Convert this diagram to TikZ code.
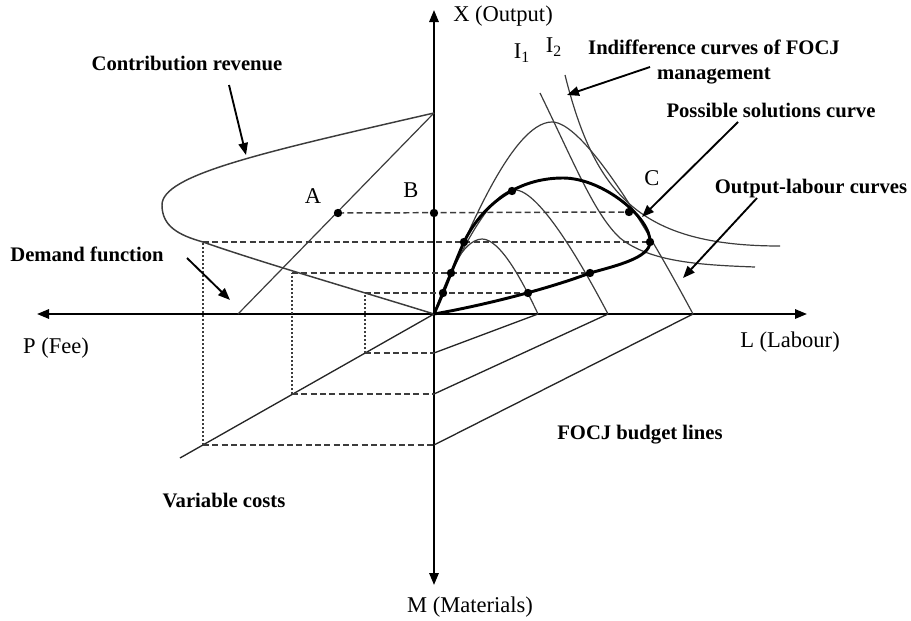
\documentclass[tikz,border=0pt]{standalone}
\usepackage{fontspec}
\setmainfont{Liberation Serif}
\usetikzlibrary{arrows.meta}
\definecolor{inkgrey}{RGB}{60,60,60}

\begin{document}
\begin{tikzpicture}[x=0.75pt,y=0.75pt,yscale=-1,xscale=1,
  axisline/.style={line width=1.5, -{Triangle[length=9,width=7]}},
  thincurve/.style={line width=0.9, inkgrey},
  budgetline/.style={line width=1, black!85},
  solcurve/.style={line width=2.2, black},
  guide/.style={line width=1.1, inkgrey, dash pattern={on 4.5pt off 2.5pt}},
  drop/.style={line width=0.8, inkgrey, dash pattern={on 1.5pt off 1.5pt}},
  pointer/.style={line width=1.4, -{Triangle[length=9,width=7]}},
  boldtxt/.style={inner sep=0, font=\fontsize{15.5}{19}\selectfont\bfseries, align=center},
  axistxt/.style={inner sep=0, font=\fontsize{16.9}{20}\selectfont}]
\useasboundingbox (0,0) rectangle (911,621);

% points
\coordinate (O) at (434,314);
\coordinate (Xtop) at (434,10);
\coordinate (Mbot) at (434,585);
\coordinate (Pleft) at (37,314);
\coordinate (Lright) at (807,314);
\coordinate (R) at (434,113);
\coordinate (Vx) at (162,205);
\coordinate (rf) at (238,314);
\coordinate (vc) at (180,458);
\coordinate (m1) at (434,353);
\coordinate (m2) at (434,394);
\coordinate (m3) at (434,445);
\coordinate (l1) at (538,314);
\coordinate (l2) at (608,314);
\coordinate (l3) at (693,314);
\coordinate (v1) at (365,353);
\coordinate (v2) at (292,394);
\coordinate (v3) at (203,445);
\coordinate (d1) at (365,293);
\coordinate (d2) at (292,273);
\coordinate (d3) at (203,242);
\coordinate (A) at (338,213);
\coordinate (B) at (434,213);
\coordinate (s1) at (443,293);
\coordinate (s2) at (451,273);
\coordinate (s3) at (464,242);
\coordinate (s4) at (512,191);
\coordinate (s5) at (629,212);
\coordinate (s6) at (650,242);
\coordinate (s7) at (590,273);
\coordinate (s8) at (528,293);
\coordinate (C) at (642,217);

%Axes
\draw [axisline] (O) -- (Xtop) ;
\draw [axisline] (O) -- (Mbot) ;
\draw [axisline] (O) -- (Pleft) ;
\draw [axisline] (O) -- (Lright) ;

%Budget lines and variable costs
\draw [budgetline] (m1) -- (l1) ;
\draw [budgetline] (m2) -- (l2) ;
\draw [budgetline] (m3) -- (l3) ;
\draw [budgetline] (O) -- (vc) ;

%Contribution revenue / demand function
\draw [thincurve, line width=1.1] (R) .. controls (260,153) and (162,175) .. (Vx) .. controls (162,226) and (178,235) .. (d3) .. controls (260,262) and (350,288) .. (O) ;
\draw [thincurve] (R) -- (rf) ;

%Dashed guides
\draw [guide] (A) -- (s5) ;
\draw [guide] (d3) -- (s6) ;
\draw [guide] (d2) -- (s7) ;
\draw [guide] (d1) -- (s8) ;
\draw [guide] (v1) -- (m1) ;
\draw [guide] (v2) -- (m2) ;
\draw [guide] (v3) -- (m3) ;
\draw [drop] (v1) -- (d1) ;
\draw [drop] (v2) -- (d2) ;
\draw [drop] (v3) -- (d3) ;

%Output-labour curves
\draw [thincurve] (O) .. controls (448,275) and (462,240) .. (482,239) .. controls (500,239) and (522,280) .. (l1) ;
\draw [thincurve] (O) .. controls (455,260) and (490,190) .. (515,190) .. controls (540,190) and (585,270) .. (l2) ;
\draw [thincurve] (O) .. controls (460,250) and (510,122) .. (552,122) .. controls (582,122) and (640,215) .. (l3) ;

%Indifference curves
\draw [thincurve] (565,75) .. controls (595,195) and (640,246) .. (780,246) ;
\draw [thincurve] (540,93) .. controls (575,165) and (595,215) .. (620,238) .. controls (650,262) and (700,265) .. (755,267) ;

%Possible solutions curve
\draw [solcurve] (O) .. controls (445,290) and (455,262) .. (s3) .. controls (481,207) and (515,178) .. (563,178) .. controls (603,178) and (651,218) .. (s6) .. controls (650,258) and (615,266) .. (s7) .. controls (545,290) and (480,306) .. (O) ;

%Dots
\foreach \p in {A,B,s1,s2,s3,s4,s5,s6,s7,s8} {\fill (\p) circle (4.2) ;}

%Pointers
\coordinate (crT) at (229,85);   \coordinate (crH) at (246,155);
\coordinate (dfT) at (187,258);  \coordinate (dfH) at (230,300);
\coordinate (icT) at (650,67);   \coordinate (icH) at (567,95);
\coordinate (pscT) at (738,122); \coordinate (pscH) at (C);
\coordinate (olT) at (757,198);  \coordinate (olH) at (683,278);
\draw [pointer] (crT) -- (crH) ;
\draw [pointer] (dfT) -- (dfH) ;
\draw [pointer] (icT) -- (icH) ;
\draw [pointer] (pscT) -- (pscH) ;
\draw [pointer] (olT) -- (olH) ;

% Text Node
\node [axistxt] (xlab) at (503,16) {X (Output)};
\node [axistxt] (mlab) at (470,607) {M (Materials)};
\node [axistxt] (plab) at (56,348) {P (Fee)};
\node [axistxt] (llab) at (790,342) {L (Labour)};
\node [axistxt] (alab) at (313,196) {A};
\node [axistxt] (blab) at (411,190) {B};
\node [axistxt] (clab) at (652,178) {C};
\node [axistxt] (i1lab) at (522,53) {I\textsubscript{1}};
\node [axistxt] (i2lab) at (554,47) {I\textsubscript{2}};
% Text Node
\node [boldtxt] (crlab) at (187,63) {Contribution revenue};
\node [boldtxt] (dflab) at (87,254) {Demand function};
\node [boldtxt] (iclab) at (714,62) {Indifference curves of FOCJ\\management};
\node [boldtxt] (psclab) at (771,110) {Possible solutions curve};
\node [boldtxt] (ollab) at (811,189) {Output-labour curves};
\node [boldtxt] (bllab) at (640,435) {FOCJ budget lines};
\node [boldtxt] (vclab) at (224,500) {Variable costs};

\end{tikzpicture}
\end{document}
